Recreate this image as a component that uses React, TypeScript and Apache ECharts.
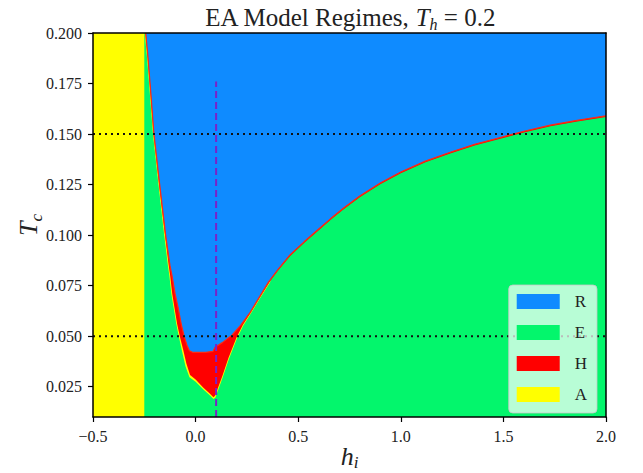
import React, { useEffect, useRef } from 'react';
import * as echarts from 'echarts';

const FONT = '"Liberation Serif", "DejaVu Serif", serif';

const X_RANGE = [-0.5, 2.0];
const Y_RANGE = [0.01, 0.2];
const X_TICK_STEP = 0.5;
const Y_TICKS = [0.025, 0.05, 0.075, 0.1, 0.125, 0.15, 0.175, 0.2];

const REGIONS = ['R', 'E', 'H', 'A'];
const REGION_COLORS: Record<string, string> = {
  R: '#0f8bff',
  E: '#03f66c',
  H: '#ff0000',
  A: '#ffff00',
};

// Pure "A" regime strip on the left
const A_STRIP_X = [-0.5, -0.25];

// Lower boundary of the R (blue) regime
const R_BOUNDARY: [number, number][] = [
  [-0.243, 0.2], [-0.232, 0.188], [-0.218, 0.17], [-0.203, 0.15], [-0.175, 0.125],
  [-0.146, 0.1], [-0.125, 0.085], [-0.115, 0.08], [-0.1, 0.071], [-0.085, 0.064],
  [-0.07, 0.056], [-0.056, 0.05], [-0.042, 0.0455], [-0.03, 0.0428], [-0.015, 0.042],
  [0.0, 0.042], [0.05, 0.042], [0.085, 0.0425], [0.095, 0.0445], [0.13, 0.0468],
  [0.177, 0.0505], [0.22, 0.0555], [0.266, 0.0618], [0.31, 0.0692], [0.355, 0.0768],
  [0.4, 0.0828], [0.461, 0.0903], [0.53, 0.0968], [0.593, 0.1024], [0.66, 0.1083],
  [0.72, 0.1133], [0.8, 0.1193], [0.9, 0.1258], [1.0, 0.1312], [1.12, 0.1366],
  [1.241, 0.141], [1.36, 0.1449], [1.485, 0.1483], [1.6, 0.1514], [1.729, 0.1544],
  [1.86, 0.1568], [2.0, 0.159],
];

// Lower boundary of the H (red) regime
const H_BOUNDARY: [number, number][] = [
  [-0.245, 0.2], [-0.234, 0.188], [-0.22, 0.17], [-0.205, 0.15], [-0.178, 0.125],
  [-0.149, 0.1], [-0.131, 0.085], [-0.124, 0.08], [-0.114, 0.071], [-0.103, 0.064],
  [-0.09, 0.056], [-0.077, 0.05], [-0.06, 0.043], [-0.045, 0.0365], [-0.027, 0.0308],
  [0.0, 0.0285], [0.038, 0.0245], [0.07, 0.0215], [0.087, 0.0198], [0.095, 0.0205],
  [0.103, 0.0227], [0.13, 0.0302], [0.16, 0.0392], [0.2, 0.0495], [0.23, 0.0555],
  [0.266, 0.0612], [0.31, 0.0686], [0.363, 0.0772], [0.4, 0.0822], [0.461, 0.0897],
  [0.53, 0.0962], [0.593, 0.1018], [0.66, 0.1077], [0.72, 0.1127], [0.8, 0.1187],
  [0.9, 0.1252], [1.0, 0.1306], [1.12, 0.136], [1.241, 0.1404], [1.36, 0.1443],
  [1.485, 0.1477], [1.6, 0.1508], [1.729, 0.1538], [1.86, 0.1562], [2.0, 0.1584],
];

// Lower boundary of the thin A (yellow) fringe around the H regime
const A_BOUNDARY: [number, number][] = [
  [-0.248, 0.2], [-0.237, 0.188], [-0.223, 0.17], [-0.208, 0.15], [-0.181, 0.125],
  [-0.153, 0.1], [-0.135, 0.085], [-0.128, 0.08], [-0.118, 0.071], [-0.107, 0.064],
  [-0.094, 0.056], [-0.082, 0.05], [-0.065, 0.042], [-0.049, 0.035], [-0.03, 0.0297],
  [0.0, 0.0274], [0.038, 0.0236], [0.07, 0.0206], [0.087, 0.0189], [0.097, 0.0196],
  [0.105, 0.022], [0.132, 0.0295], [0.162, 0.0386], [0.202, 0.049], [0.232, 0.0551],
  [0.267, 0.0608], [0.311, 0.0682], [0.364, 0.0768],
];

const H_REF_LINES = [0.05, 0.15];
const V_REF_X = 0.1;
const V_REF_TOP = 0.176;

const fmtX = (v: number) => v.toFixed(1).replace('-', '\u2212');
const fmtY = (v: number) => v.toFixed(3);

export default function App() {
  const ref = useRef<HTMLDivElement>(null);

  useEffect(() => {
    if (!ref.current) return;
    const chart = echarts.init(ref.current, undefined, { renderer: 'svg' });

    const areaSeries = (name: string, data: [number, number][], color: string, origin: 'start' | 'end', line?: any) => ({
      name: name,
      type: 'line',
      data,
      showSymbol: false,
      symbol: 'none',
      silent: true,
      animation: false,
      lineStyle: line || { width: 0, opacity: 0 },
      itemStyle: { color },
      areaStyle: { color, opacity: 1, origin },
      z: 2,
    });

    const series: any[] = [
      areaSeries('E-fill', [[X_RANGE[0], Y_RANGE[1]], [X_RANGE[1], Y_RANGE[1]]], REGION_COLORS.E, 'start'),
      areaSeries('A-strip', [[A_STRIP_X[0], Y_RANGE[1]], [A_STRIP_X[1], Y_RANGE[1]]], REGION_COLORS.A, 'start'),
      areaSeries('A-fringe', A_BOUNDARY, REGION_COLORS.A, 'end'),
      areaSeries('H-fill', H_BOUNDARY, REGION_COLORS.H, 'end'),
      areaSeries('R-fill', R_BOUNDARY, REGION_COLORS.R, 'end', { color: '#ff2a10', width: 1.2 }),
      ...H_REF_LINES.map((y, i) => ({
        name: 'ref-h-' + i,
        type: 'line',
        data: [[X_RANGE[0], y], [X_RANGE[1], y]],
        showSymbol: false,
        symbol: 'none',
        silent: true,
        lineStyle: { color: '#111', width: 2, type: [2, 4] },
        z: 3,
      })),
      {
        name: 'ref-v',
        type: 'line',
        data: [[V_REF_X, Y_RANGE[0]], [V_REF_X, V_REF_TOP]],
        showSymbol: false,
        symbol: 'none',
        silent: true,
        lineStyle: { color: '#7a22c8', width: 2, type: [7, 4] },
        z: 3,
      },
      ...REGIONS.map((r) => ({
        name: r,
        type: 'scatter',
        data: [],
        itemStyle: { color: REGION_COLORS[r], opacity: 1 },
      })),
    ];

    const option: any = {
      animation: false,
      backgroundColor: '#ffffff',
      grid: { left: 93, top: 33, width: 513, height: 384, containLabel: false, outerBoundsMode: 'none' },
      graphic: [
        {
          type: 'text',
          x: 350,
          y: 17,
          z: 10,
          style: {
            text: '{n|EA Model Regimes, }{i|T}{s|h}{n| = 0.2}',
            textAlign: 'center',
            textVerticalAlign: 'middle',
            fill: '#222',
            rich: {
              n: { fontFamily: FONT, fontSize: 25, lineHeight: 30, fill: '#222', color: '#222' },
              i: { fontFamily: FONT, fontSize: 25, fontStyle: 'italic', lineHeight: 30, fill: '#222', color: '#222' },
              s: { fontFamily: FONT, fontSize: 16, fontStyle: 'italic', lineHeight: 16, verticalAlign: 'bottom', fill: '#222', color: '#222' },
            },
          },
        },
      ],
      xAxis: [
        {
          type: 'value',
          min: X_RANGE[0],
          max: X_RANGE[1],
          interval: X_TICK_STEP,
          z: 10,
          axisLine: { show: true, onZero: false, lineStyle: { color: '#000', width: 1.5 } },
          axisTick: { show: true, length: 5, lineStyle: { color: '#000', width: 1.2 } },
          axisLabel: { formatter: fmtX, fontFamily: FONT, fontSize: 16, color: '#222', margin: 11 },
          splitLine: { show: false },
          name: '{i|h}{s|i}',
          nameLocation: 'middle',
          nameGap: 24,
          nameMoveOverlap: false,
          nameTextStyle: {
            rich: {
              i: { fontFamily: FONT, fontSize: 26, fontStyle: 'italic', lineHeight: 30, color: '#222' },
              s: { fontFamily: FONT, fontSize: 17, fontStyle: 'italic', lineHeight: 15, verticalAlign: 'bottom', color: '#222' },
            },
          },
        },
        {
          type: 'value',
          position: 'top',
          min: X_RANGE[0],
          max: X_RANGE[1],
          interval: X_TICK_STEP,
          z: 10,
          axisLine: { show: true, onZero: false, lineStyle: { color: '#000', width: 1.5 } },
          axisTick: { show: false },
          axisLabel: { show: false },
          splitLine: { show: false },
        },
      ],
      yAxis: [
        {
          type: 'value',
          min: Y_RANGE[0],
          max: Y_RANGE[1],
          z: 10,
          axisLine: { show: true, onZero: false, lineStyle: { color: '#000', width: 1.5 } },
          axisTick: { show: true, length: 5, customValues: Y_TICKS, lineStyle: { color: '#000', width: 1.2 } },
          axisLabel: { customValues: Y_TICKS, formatter: fmtY, fontFamily: FONT, fontSize: 16, color: '#222', margin: 11 },
          splitLine: { show: false },
          name: '{i|T}{s|c}',
          nameLocation: 'middle',
          nameGap: 48,
          nameMoveOverlap: false,
          nameTextStyle: {
            rich: {
              i: { fontFamily: FONT, fontSize: 26, fontStyle: 'italic', lineHeight: 34, color: '#222' },
              s: { fontFamily: FONT, fontSize: 17, fontStyle: 'italic', lineHeight: 17, verticalAlign: 'bottom', color: '#222' },
            },
          },
        },
        {
          type: 'value',
          position: 'right',
          min: Y_RANGE[0],
          max: Y_RANGE[1],
          z: 10,
          axisLine: { show: true, onZero: false, lineStyle: { color: '#000', width: 1.5 } },
          axisTick: { show: false },
          axisLabel: { show: false },
          splitLine: { show: false },
        },
      ],
      legend: {
        data: REGIONS,
        orient: 'vertical',
        right: 46,
        top: 285,
        icon: 'rect',
        itemWidth: 43,
        itemHeight: 15,
        itemGap: 14,
        padding: [8, 10, 10, 8],
        backgroundColor: 'rgba(255,255,255,0.72)',
        borderColor: 'rgba(200,200,200,0.8)',
        borderWidth: 1,
        borderRadius: 4,
        selectedMode: false,
        z: 8,
        textStyle: { fontFamily: FONT, fontSize: 17, color: '#222', padding: [0, 0, 0, 10] },
      },
      series,
    };

    chart.setOption(option);
    return () => chart.dispose();
  }, []);

  return (
    <div
      ref={ref}
      style={{ position: 'fixed', left: 0, top: 0, width: 643, height: 473 }}
    />
  );
}
